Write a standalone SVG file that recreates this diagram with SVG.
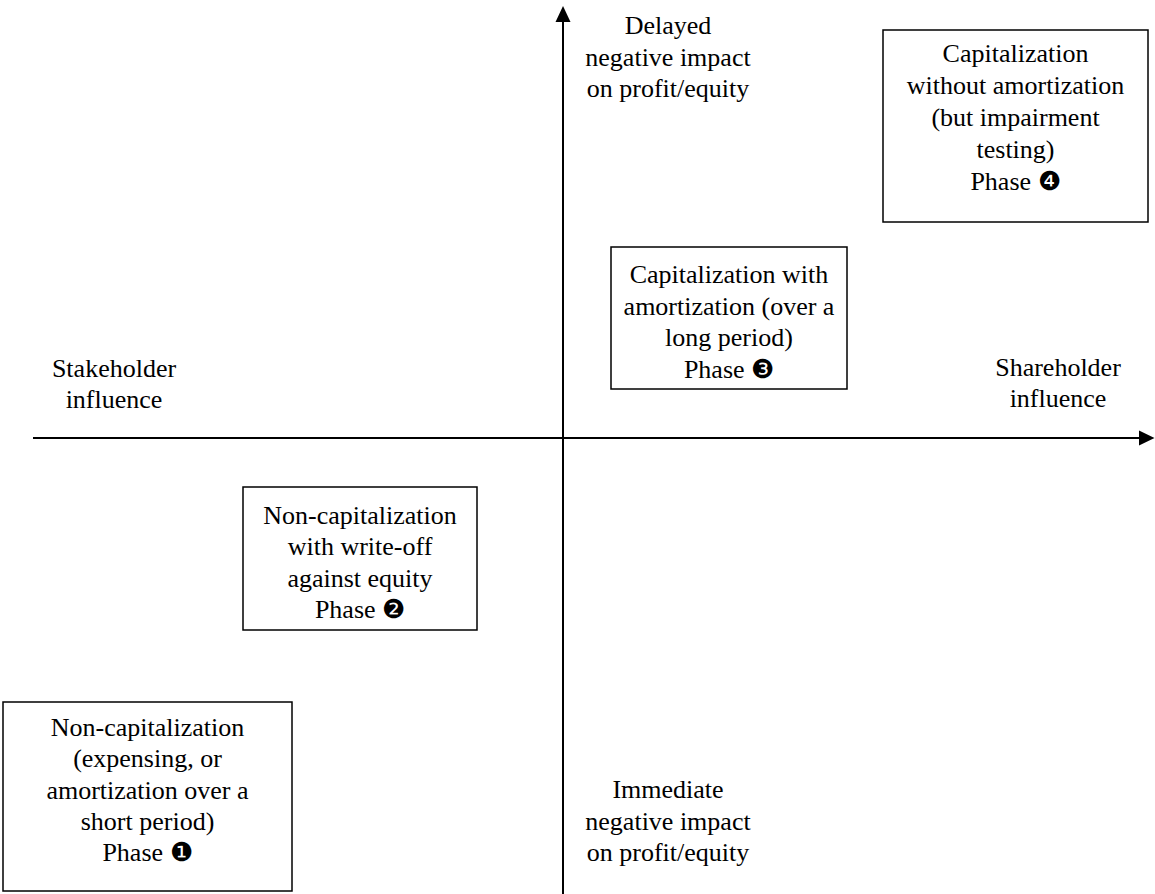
<svg xmlns="http://www.w3.org/2000/svg" width="1155" height="894" viewBox="0 0 1155 894">
<style>
text{font-family:"Liberation Serif","Times New Roman","DejaVu Serif",serif;font-size:26px;fill:#000;text-anchor:middle}
.box{fill:#fff;stroke:#000;stroke-width:1.5}
.axis{stroke:#000;stroke-width:2;fill:none}
</style>
<rect width="1155" height="894" fill="#fff"/>
<g id="connectors">
<line class="axis" x1="563" y1="894" x2="563" y2="20"/>
<polygon points="563,6 555.5,22 570.5,22" fill="#000"/>
<line class="axis" x1="33" y1="438" x2="1141" y2="438"/>
<polygon points="1154.5,438 1139,430.5 1139,445.5" fill="#000"/>
</g>
<g id="label-delayed">
<text x="668" y="34">Delayed</text>
<text x="668" y="65.5">negative impact</text>
<text x="668" y="97">on profit/equity</text>
</g>
<g id="label-immediate">
<text x="668" y="798">Immediate</text>
<text x="668" y="829.5">negative impact</text>
<text x="668" y="861">on profit/equity</text>
</g>
<g id="label-stakeholder">
<text x="114" y="377">Stakeholder</text>
<text x="114" y="408">influence</text>
</g>
<g id="label-shareholder">
<text x="1058" y="376">Shareholder</text>
<text x="1058" y="407">influence</text>
</g>
<g id="phase4">
<rect class="box" x="883" y="30" width="265" height="192"/>
<text x="1015.5" y="62">Capitalization</text>
<text x="1015.5" y="94">without amortization</text>
<text x="1015.5" y="126">(but impairment</text>
<text x="1015.5" y="158">testing)</text>
<text x="1015.5" y="190">Phase ❹</text>
</g>
<g id="phase3">
<rect class="box" x="611" y="247" width="236" height="142"/>
<text x="729" y="283">Capitalization with</text>
<text x="729" y="314.5">amortization (over a</text>
<text x="729" y="346">long period)</text>
<text x="729" y="377.5">Phase ❸</text>
</g>
<g id="phase2">
<rect class="box" x="243" y="487" width="234" height="143"/>
<text x="360" y="524">Non-capitalization</text>
<text x="360" y="555">with write-off</text>
<text x="360" y="586.5">against equity</text>
<text x="360" y="618">Phase ❷</text>
</g>
<g id="phase1">
<rect class="box" x="3" y="702" width="289" height="189"/>
<text x="147.5" y="736">Non-capitalization</text>
<text x="147.5" y="767">(expensing, or</text>
<text x="147.5" y="798.5">amortization over a</text>
<text x="147.5" y="829.5">short period)</text>
<text x="147.5" y="861">Phase ❶</text>
</g>
</svg>
